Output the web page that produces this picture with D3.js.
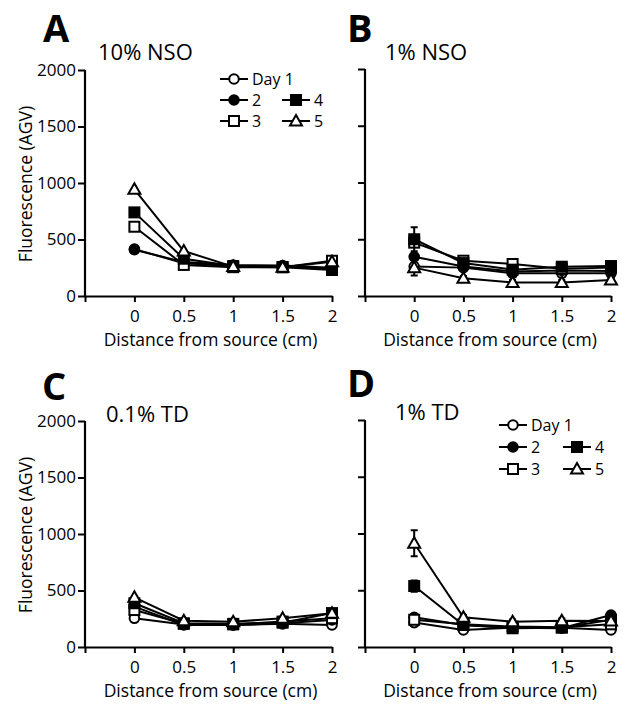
<!DOCTYPE html>
<html><head><meta charset="utf-8">
<script src="https://cdn.jsdelivr.net/npm/d3@7"></script>
<style>body{margin:0;background:#fff}svg{display:block}text{font-family:"Open Sans",sans-serif;fill:#000}</style>
</head><body>
<svg id="c" width="632" height="710"></svg>
<script>
const xValues = [0, 0.5, 1, 1.5, 2];
const xTicks = [-0.5, 0, 0.5, 1, 1.5, 2];
const yTicks = [0, 500, 1000, 1500, 2000];
const days = ["Day 1", "2", "3", "4", "5"];
const markers = ["circleOpen", "circleFilled", "squareOpen", "squareFilled", "triangleOpen"];

// Panel A: 10% NSO
const a_day1 = [410, 300, 275, 270, 250];
const a_day2 = [415, 290, 265, 265, 240];
const a_day3 = [613, 275, 255, 255, 312];
const a_day4 = [740, 330, 265, 255, 230];
const a_day5 = [944, 398, 260, 254, 304];
// Panel B: 1% NSO
const b_day1 = [260, 250, 200, 200, 200];
const b_day2 = [345, 260, 215, 225, 220];
const b_day3 = [470, 311, 282, 240, 250];
const b_day4 = [500, 290, 232, 258, 264];
const b_day5 = [250, 156, 120, 120, 141];
// Panel C: 0.1% TD
const c_day1 = [254, 200, 195, 205, 195];
const c_day2 = [357, 195, 195, 210, 240];
const c_day3 = [327, 205, 200, 225, 255];
const c_day4 = [387, 210, 205, 215, 300];
const c_day5 = [440, 233, 224, 254, 298];
// Panel D: 1% TD
const d_day1 = [215, 150, 170, 170, 150];
const d_day2 = [262, 194, 170, 165, 282];
const d_day3 = [240, 200, 180, 175, 200];
const d_day4 = [537, 194, 165, 170, 240];
const d_day5 = [914, 262, 223, 232, 230];
// error bars (SEM) at each distance
const b_err4 = [105, 20, 20, 20, 20];
const b_err5 = [70, 20, 20, 20, 20];
const d_err4 = [50, 20, 20, 20, 20];
const d_err5 = [115, 20, 20, 20, 20];

const panels = [
  {letter:"A", title:"10% NSO", series:[a_day1,a_day2,a_day3,a_day4,a_day5], err:[null,null,null,null,null], x0:85, x1:332, y0:296, y1:70, ylab:true,
   lx:43, ly:42, tx:98, ty:60, legend:{x:234, x2:296, rows:[79,100,121]}},
  {letter:"B", title:"1% NSO", series:[b_day1,b_day2,b_day3,b_day4,b_day5], err:[null,null,null,b_err4,b_err5], x0:365, x1:611, y0:296, y1:69, ylab:false,
   lx:347, ly:42, tx:385, ty:60, legend:null},
  {letter:"C", title:"0.1% TD", series:[c_day1,c_day2,c_day3,c_day4,c_day5], err:[null,null,null,null,null], x0:85, x1:332, y0:647, y1:421, ylab:true,
   lx:42, ly:400, tx:106, ty:422, legend:null},
  {letter:"D", title:"1% TD", series:[d_day1,d_day2,d_day3,d_day4,d_day5], err:[null,null,null,d_err4,d_err5], x0:365, x1:611, y0:647, y1:420, ylab:false,
   lx:347, ly:397, tx:395, ty:420, legend:{x:513, x2:577, rows:[425,447,469]}}
];

const svg = d3.select("#c");

function drawMarker(g, type, cx, cy) {
  const open = type.endsWith("Open");
  const fill = open ? "#fff" : "#000";
  if (type.startsWith("circle")) {
    g.append("circle").attr("cx", cx).attr("cy", cy).attr("r", 4.8)
      .attr("fill", fill).attr("stroke", "#000").attr("stroke-width", 2);
  } else if (type.startsWith("square")) {
    g.append("rect").attr("x", cx - 5).attr("y", cy - 5).attr("width", 10).attr("height", 10)
      .attr("fill", fill).attr("stroke", "#000").attr("stroke-width", 2);
  } else {
    const s = 6;
    g.append("path").attr("d", `M${cx},${cy - s}L${cx + s},${cy + s * 0.75}L${cx - s},${cy + s * 0.75}Z`)
      .attr("fill", fill).attr("stroke", "#000").attr("stroke-width", 2).attr("stroke-linejoin", "miter");
  }
}

panels.forEach(p => {
  const x = d3.scaleLinear().domain([-0.5, 2]).range([p.x0, p.x1]);
  const y = d3.scaleLinear().domain([0, 2000]).range([p.y0, p.y1]);
  const g = svg.append("g");

  // axes
  const yAxis = d3.axisLeft(y).tickValues(yTicks).tickSize(7).tickSizeOuter(0)
    .tickFormat(p.ylab ? d3.format("d") : () => "");
  const ya = g.append("g").attr("transform", `translate(${p.x0},0)`).call(yAxis);
  const xAxis = d3.axisBottom(x).tickValues(xTicks).tickSize(6).tickSizeOuter(0)
    .tickFormat(d => d < 0 ? "" : String(d));
  const xa = g.append("g").attr("transform", `translate(0,${p.y0})`).call(xAxis);
  [ya, xa].forEach(a => {
    a.select(".domain").attr("stroke-width", 2.2).attr("stroke", "#000");
    a.selectAll(".tick line").attr("stroke-width", 2).attr("stroke", "#000");
    a.selectAll(".tick text").attr("font-size", 17).attr("font-family", "'Open Sans', sans-serif").attr("fill", "#000");
  });
  ya.select(".domain").attr("d", `M0,${p.y0 + 1}V${p.y1}`);
  ya.selectAll(".tick text").attr("x", -9);
  xa.selectAll(".tick text").attr("y", 14);

  // axis labels
  g.append("text").attr("x", (p.x0 + p.x1) / 2 + 2).attr("y", p.y0 + 50)
    .attr("text-anchor", "middle").attr("font-size", 17.5).text("Distance from source (cm)");
  if (p.ylab) {
    g.append("text").attr("transform", `translate(32,${(p.y0 + p.y1) / 2 + 1}) rotate(-90)`)
      .attr("text-anchor", "middle").attr("font-size", 17.5).text("Fluorescence (AGV)");
  }
  // panel letter and title
  g.append("text").attr("x", p.lx).attr("y", p.ly).attr("font-size", 38).attr("font-weight", "bold").text(p.letter);
  g.append("text").attr("x", p.tx).attr("y", p.ty).attr("font-size", 22).text(p.title);

  // series
  p.series.forEach((vals, i) => {
    const sg = g.append("g");
    const err = p.err[i];
    if (err) {
      vals.forEach((v, j) => {
        const cx = x(xValues[j]);
        sg.append("path").attr("d", `M${cx},${y(v - err[j])}V${y(v + err[j])}M${cx - 3.5},${y(v + err[j])}H${cx + 3.5}M${cx - 3.5},${y(v - err[j])}H${cx + 3.5}`)
          .attr("stroke", "#000").attr("stroke-width", 2).attr("fill", "none");
      });
    }
    const line = d3.line().x((d, j) => x(xValues[j])).y(d => y(d));
    sg.append("path").datum(vals).attr("d", line).attr("fill", "none").attr("stroke", "#000").attr("stroke-width", 2);
    vals.forEach((v, j) => drawMarker(sg, markers[i], x(xValues[j]), y(v)));
  });

  // legend
  if (p.legend) {
    const L = p.legend;
    const pos = [[L.x, L.rows[0]], [L.x, L.rows[1]], [L.x, L.rows[2]], [L.x2, L.rows[1]], [L.x2, L.rows[2]]];
    days.forEach((d, i) => {
      const [cx, cy] = pos[i];
      const lg = g.append("g");
      lg.append("line").attr("x1", cx - 14).attr("x2", cx + 14).attr("y1", cy).attr("y2", cy)
        .attr("stroke", "#000").attr("stroke-width", 2);
      drawMarker(lg, markers[i], cx, cy);
      lg.append("text").attr("x", cx + 18).attr("y", cy).attr("dy", "0.36em").attr("font-size", 16).text(d);
    });
  }
});
</script>
</body></html>
